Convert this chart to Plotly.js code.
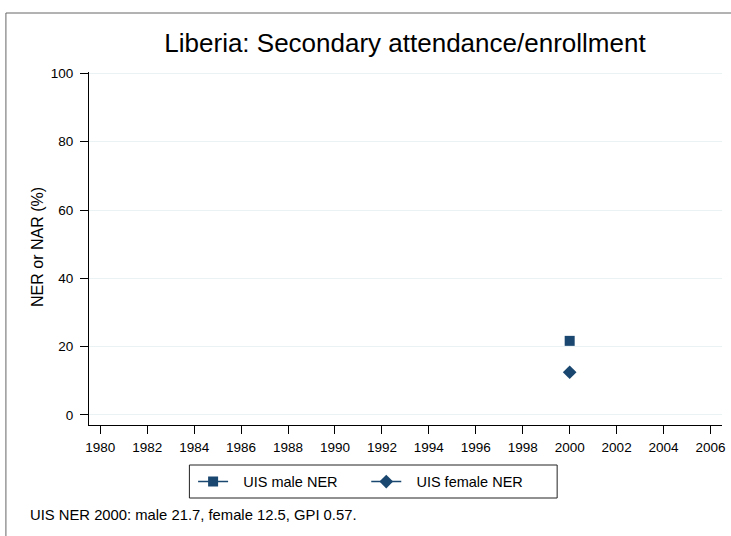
<!DOCTYPE html>
<html><head><meta charset="utf-8">
<script src="https://cdn.plot.ly/plotly-3.0.1.min.js"></script>
<style>html,body{margin:0;padding:0;background:#fff}#chart{width:731px;height:536px}</style>
</head><body><div id="chart"></div>
<script>
const years = [2000];
const maleNER = [21.7];
const femaleNER = [12.5];
const xTicks = [1980,1982,1984,1986,1988,1990,1992,1994,1996,1998,2000,2002,2004,2006];
const yTicks = [0,20,40,60,80,100];
const navy = '#1a476f';
const traces = [
  {x: years, y: maleNER, name: '\u2002\u2009UIS male NER', type: 'scatter', mode: 'lines+markers', legend: 'legend',
   line: {color: navy, width: 1.5}, marker: {symbol: 'square', size: 10, color: navy}},
  {x: years, y: femaleNER, name: '\u2002\u2009UIS female NER', type: 'scatter', mode: 'lines+markers', legend: 'legend2',
   line: {color: navy, width: 1.5}, marker: {symbol: 'diamond', size: 10.5, color: navy}}
];
const legendCommon = {orientation: 'h', xanchor: 'left', y: -0.1606, yanchor: 'middle',
                      borderwidth: 0, bgcolor: 'rgba(0,0,0,0)', font: {size: 14.5, color: '#000'}};
const layout = {
  width: 731, height: 536,
  margin: {l: 89, r: 9, t: 72, b: 111},
  paper_bgcolor: '#fff', plot_bgcolor: '#fff',
  font: {family: 'Liberation Sans, Arial, sans-serif', color: '#000', size: 13},
  title: {text: 'Liberia: Secondary attendance/enrollment', x: 0.554, xref: 'container', xanchor: 'center',
          y: 0.9198, yref: 'container', yanchor: 'middle', font: {size: 26, color: '#000'}},
  xaxis: {range: [1979.52, 2006.49], tickvals: xTicks, ticktext: xTicks.map(String),
          showgrid: false, zeroline: false, showline: true, linecolor: '#000', linewidth: 1,
          ticks: 'outside', ticklen: 8, tickcolor: '#000', tickfont: {size: 13.5}, ticklabelstandoff: 2},
  yaxis: {range: [-2.93, 100.4], tickvals: yTicks, ticktext: yTicks.map(String),
          showgrid: true, gridcolor: '#eaf2f3', gridwidth: 1, zeroline: false,
          showline: true, linecolor: '#000', linewidth: 1,
          ticks: 'outside', ticklen: 8, tickcolor: '#000', tickfont: {size: 13.5}, ticklabelstandoff: 4},
  showlegend: true,
  legend: Object.assign({x: (193 - 89) / 632.4}, legendCommon),
  legend2: Object.assign({x: (366 - 89) / 632.4}, legendCommon),
  annotations: [
    {text: 'NER or NAR (%)', xref: 'paper', yref: 'paper', x: (37 - 89) / 632.4, y: (425 - 247) / 353,
     xanchor: 'center', yanchor: 'middle', textangle: -90, showarrow: false, font: {size: 16, color: '#000'}},
    {text: 'UIS NER 2000: male 21.7, female 12.5, GPI 0.57.', xref: 'paper', yref: 'paper',
     x: (28 - 89) / 632.4, y: (425 - 515) / 353, xanchor: 'left', yanchor: 'middle', showarrow: false,
     font: {size: 14.8, color: '#000'}}
  ],
  shapes: [
    {type: 'rect', xref: 'paper', yref: 'paper', x0: (6 - 89) / 632.4, x1: 1.03, y0: -0.34, y1: (425 - 13) / 353,
     line: {color: '#666', width: 1}, fillcolor: 'rgba(0,0,0,0)', layer: 'below'},
    {type: 'rect', xref: 'paper', yref: 'paper', x0: (189.3 - 89) / 632.4, x1: (556.7 - 89) / 632.4,
     y0: (425 - 498) / 353, y1: (425 - 465) / 353,
     line: {color: '#222', width: 1}, fillcolor: 'rgba(0,0,0,0)', layer: 'below'}
  ]
};
Plotly.newPlot('chart', traces, layout, {displayModeBar: false, staticPlot: true});
</script></body></html>
